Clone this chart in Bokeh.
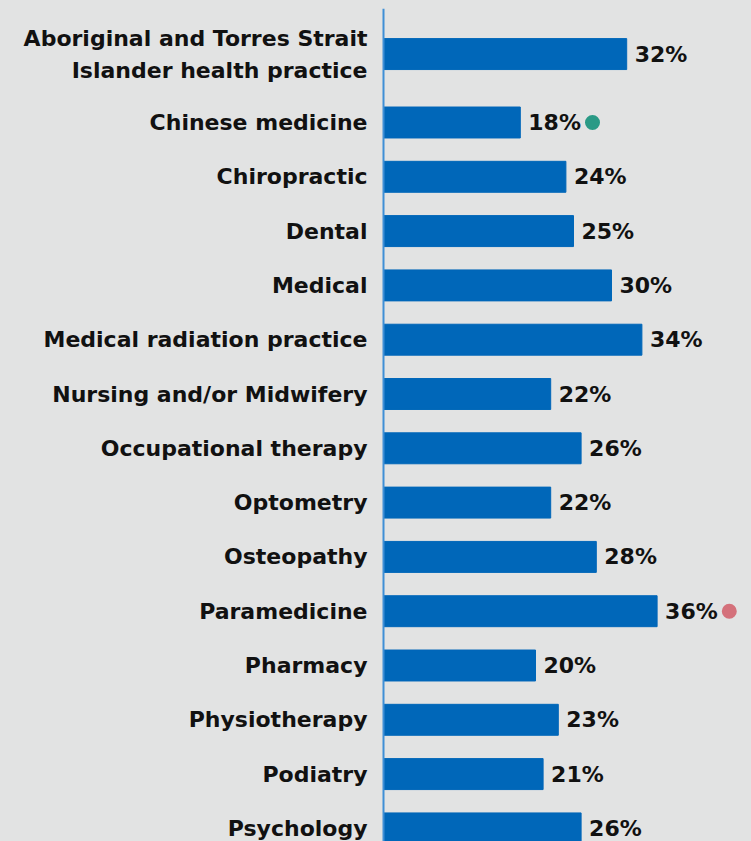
from bokeh.plotting import figure
from bokeh.models import ColumnDataSource, Range1d, Span
from bokeh.core.properties import value
from bokeh.embed import file_html
from bokeh.resources import INLINE

# ---- data ----
professions = [
    "Aboriginal and Torres Strait\nIslander health practice",
    "Chinese medicine",
    "Chiropractic",
    "Dental",
    "Medical",
    "Medical radiation practice",
    "Nursing and/or Midwifery",
    "Occupational therapy",
    "Optometry",
    "Osteopathy",
    "Paramedicine",
    "Pharmacy",
    "Physiotherapy",
    "Podiatry",
    "Psychology",
]
percent = [32, 18, 24, 25, 30, 34, 22, 26, 22, 28, 36, 20, 23, 21, 26]
# markers: lowest (teal) and highest (pink)
marker_profession = ["Chinese medicine", "Paramedicine"]
marker_color = ["#2a9a86", "#d4717b"]

# ---- styling / layout ----
BG = "#e2e3e3"
BAR = "#0067b9"
AXIS = "#3f8fd6"
FONT = "DejaVu Sans"
FS = "22px"

W, H = 751, 841
TOP_PAD = 8
FRAME_H = H - TOP_PAD
PX_PER_UNIT_X = 7.6           # pixels per percentage point
PITCH = 54.3                  # pixels per row
ZERO_PX = 383                 # x position of 0%
ROW1_PX = 122 - TOP_PAD       # frame y of row index 1 center

# row positions: labels with extra lines push the row up a little
ys = []
for i, lab in enumerate(professions):
    extra = lab.count("\n")
    ys.append(i - 0.26 * extra)

src = ColumnDataSource(dict(
    label=professions,
    y=ys,
    pct=percent,
    txt=[f"{v}%" for v in percent],
))

x_start = -ZERO_PX / PX_PER_UNIT_X
x_end = (W - ZERO_PX) / PX_PER_UNIT_X
y_top = 1 - ROW1_PX / PITCH
y_bot = y_top + FRAME_H / PITCH

p = figure(width=W, height=H, output_backend="svg", toolbar_location=None,
           x_range=Range1d(x_start, x_end), y_range=Range1d(y_bot, y_top),
           min_border=0, min_border_left=0, min_border_right=0,
           min_border_top=TOP_PAD, min_border_bottom=0)
p.background_fill_color = BG
p.border_fill_color = BG
p.outline_line_color = None
p.axis.visible = False
p.grid.visible = False

p.hbar(y="y", left=0, right="pct", height=0.57, color=BAR, source=src)

p.add_layout(Span(location=0, dimension="height", line_color=AXIS, line_width=2))

p.text(x=0, y="y", text="label", source=src, x_offset=-16,
       text_align="right", text_baseline="middle",
       text_font=value(FONT), text_font_style="bold", text_font_size=FS,
       text_line_height=1.28, text_color="#111111")

p.text(x="pct", y="y", text="txt", source=src, x_offset=8,
       text_align="left", text_baseline="middle",
       text_font=value(FONT), text_font_style="bold", text_font_size=FS,
       text_color="#111111")

mx, my = [], []
for name in marker_profession:
    i = professions.index(name)
    mx.append(percent[i] + 9.5)
    my.append(ys[i])
p.scatter(x=mx, y=my, size=15, color=marker_color, line_color=None)

template = "{% block postamble %}<style>html, body { background: #e2e3e3; }</style>{% endblock %}"
open("out.html", "w").write(file_html(p, INLINE, template=template))
